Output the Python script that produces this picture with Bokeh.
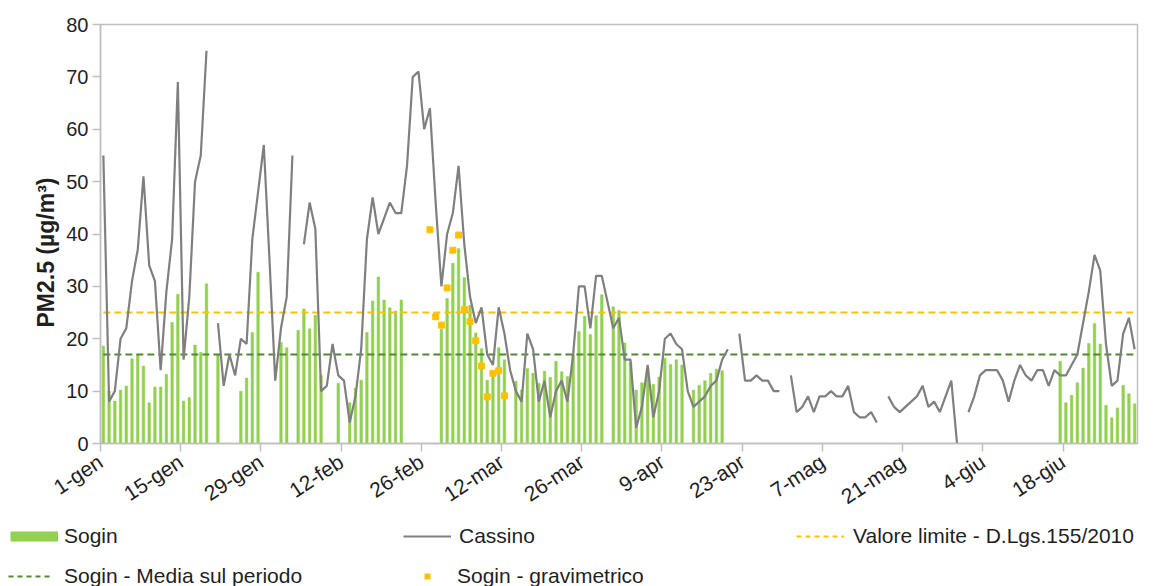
import numpy as np
from bokeh.plotting import figure
from bokeh.layouts import column
from bokeh.models import FixedTicker, Range1d, Legend, LegendItem, Title
from bokeh.embed import file_html
from bokeh.resources import INLINE

n = None

# ---- data (day index 0 = 1-gen ... 180 = 30-giu) ----
sogin = [
    18.6, 10.0, 8.1, 10.2, 11.0, 16.2, 17.0, 14.8, 7.8, 10.8,
    10.8, 13.2, 23.1, 28.5, 8.1, 8.8, 18.8, 17.4, 30.5, n,
    17.0, n, n, n, 10.0, 12.5, 21.2, 32.7, n, n,
    n, 19.3, 18.3, n, 21.6, 25.7, 21.9, 24.5, 13.0, n,
    n, 11.5, n, 7.8, 10.6, 12.1, 21.2, 27.2, 31.8, 27.4,
    25.9, 25.3, 27.4, n, n, n, n, n, n, 21.8,
    27.7, 34.4, 37.2, 31.7, 26.4, 21.1, 18.1, 12.1, 13.8, 18.3,
    16.0, n, 11.9, 10.2, 14.3, 13.4, 11.5, 13.8, 12.6, 15.7,
    13.7, 12.8, 16.9, 21.4, 24.3, 20.8, 24.4, 28.4, n, 26.1,
    25.4, 19.2, 15.5, 10.2, 11.6, 14.4, 11.3, 12.7, 16.3, 15.1,
    16.0, 15.0, n, 10.2, 11.1, 12.0, 13.4, 14.2, 13.9, n,
    n, n, n, n, n, n, n, n, n, n,
    n, n, n, n, n, n, n, n, n, n,
    n, n, n, n, n, n, n, n, n, n,
    n, n, n, n, n, n, n, n, n, n,
    n, n, n, n, n, n, n, n, n, n,
    n, n, n, n, n, n, n, 15.7, 7.8, 9.2,
    11.6, 14.4, 19.1, 22.9, 19.0, 7.3, 4.9, 6.8, 11.1, 9.5,
    7.6,
]

cassino = [
    55, 8, 10, 20, 22, 31, 37, 51, 34, 31,
    14, 29, 39, 69, 16, 28, 50, 55, 75, n,
    23, 11, 17, 13, 20, 19, 39, 48, 57, 35,
    12, 22, 28, 55, n, 38, 46, 41, 10, 11,
    19, 13, 12, 4, 9, 18, 39, 47, 40, 43,
    46, 44, 44, 53, 70, 71, 60, 64, 46, 30,
    40, 44, 53, 38, 28, 23, 26, 17, 15, 26,
    21, 14, 10, 8, 21, 18, 8, 12, 5, 10,
    12, 8, 17, 30, 30, 22, 32, 32, 27, 22,
    24, 16, 16, 3, 7, 15, 5, 10, 20, 21,
    19, 18, 10, 7, 8, 9, 11, 12, 16, 18,
    n, 21, 12, 12, 13, 12, 12, 10, 10, n,
    13, 6, 7, 9, 6, 9, 9, 10, 9, 9,
    11, 6, 5, 5, 6, 4, n, 9, 7, 6,
    7, 8, 9, 11, 7, 8, 6, 9, 12, 0,
    n, 6, 9, 13, 14, 14, 14, 12, 8, 12,
    15, 13, 12, 14, 14, 11, 14, 13, 13, 15,
    17, 23, 29, 36, 33, 19, 11, 12, 21, 24,
    18,
]

grav_days = [57, 58, 59, 60, 61, 62, 63, 64, 65, 66, 67, 68, 69, 70]
grav_values = [40.8, 24.2, 22.6, 29.7, 36.9, 39.8, 25.6, 23.3, 19.6, 14.8, 8.9, 13.4, 13.9, 9.1]

limit_value = 25.0      # Valore limite - D.Lgs.155/2010
sogin_mean = 17.0       # Sogin - Media sul periodo

tick_days = [0, 14, 28, 42, 56, 70, 84, 98, 112, 126, 140, 154, 168]
tick_labels = ["1-gen", "15-gen", "29-gen", "12-feb", "26-feb", "12-mar", "26-mar",
               "9-apr", "23-apr", "7-mag", "21-mag", "4-giu", "18-giu"]
y_ticks = [0, 10, 20, 30, 40, 50, 60, 70, 80]

# ---- styling ----
FONT = "Liberation Sans"
TXT = "#1f1f1f"
AXIS_GRAY = "#BFBFBF"
GREEN = "#92D050"
DARK_GREEN = "#4E8A2E"
YELLOW = "#FFC000"
GRAY_LINE = "#7F7F7F"

days = np.arange(len(cassino))
xc = days + 0.5                       # centre of each day cell
sogin_arr = np.array(sogin, dtype=float)
cassino_arr = np.array(cassino, dtype=float)
grav_x = np.array(grav_days) + 0.5

MAIN_H = 521

# ================= main chart =================
p = figure(width=1166, height=MAIN_H, output_backend="svg", toolbar_location=None,
           x_range=Range1d(0, len(cassino)), y_range=Range1d(y_ticks[0], y_ticks[-1]),
           min_border_left=100, min_border_right=29, min_border_top=24, min_border_bottom=78)
p.background_fill_color = "white"
p.border_fill_color = "white"
p.outline_line_color = AXIS_GRAY
p.outline_line_width = 1.5
p.xgrid.visible = False
p.ygrid.visible = False

p.vbar(x=xc, top=sogin_arr, width=0.45, fill_color=GREEN, line_color=GREEN, line_width=0.5)
p.line(x=[xc[0], xc[-1]], y=[limit_value, limit_value], line_color=YELLOW,
       line_width=2, line_dash="7 4")
p.line(x=[xc[0], xc[-1]], y=[sogin_mean, sogin_mean], line_color=DARK_GREEN,
       line_width=2, line_dash="7 4")
p.line(x=xc, y=cassino_arr, line_color=GRAY_LINE, line_width=2.2)
p.scatter(x=grav_x, y=grav_values, marker="square", size=6,
          fill_color=YELLOW, line_color=YELLOW)

for ax in (p.xaxis, p.yaxis):
    ax.axis_line_color = AXIS_GRAY
    ax.axis_line_width = 1.5
    ax.major_tick_line_color = AXIS_GRAY
    ax.major_tick_line_width = 1.5
    ax.minor_tick_line_color = None
    ax.major_tick_in = 0
    ax.major_tick_out = 8
    ax.major_label_text_font = FONT
    ax.major_label_text_color = TXT

p.yaxis.major_label_text_font_size = "20px"
p.yaxis.ticker = FixedTicker(ticks=y_ticks)
p.yaxis.major_label_standoff = 4
p.xaxis.major_label_text_font_size = "21px"
p.xaxis.ticker = FixedTicker(ticks=tick_days)
p.xaxis.major_label_overrides = {d: lab for d, lab in zip(tick_days, tick_labels)}
p.xaxis.major_label_orientation = 0.58
p.xaxis.major_label_standoff = 8

p.add_layout(Title(text="PM2.5 (µg/m³)", align="left", offset=116,
                   text_font=FONT, text_font_size="23px", text_font_style="bold",
                   text_color=TXT), "left")

# ================= legend strip =================
lg = figure(width=1166, height=586 - MAIN_H, output_backend="svg", toolbar_location=None,
            x_range=Range1d(0, 1), y_range=Range1d(0, 1),
            x_axis_type=None, y_axis_type=None,
            min_border_left=0, min_border_right=0, min_border_top=0, min_border_bottom=0)
lg.outline_line_color = None
lg.xgrid.visible = False
lg.ygrid.visible = False
lg.background_fill_color = "white"
lg.border_fill_color = "white"

for f in (p, lg):
    if "frame_align" in f.properties():
        f.frame_align = False

# proxy renderers (kept outside the visible range; they only supply legend swatches)
off = [-5, -4]
sogin_proxy = lg.line(x=off, y=off, line_color=GREEN, line_width=10)
cas_proxy = lg.line(x=off, y=off, line_color=GRAY_LINE, line_width=2)
lim_proxy = lg.line(x=off, y=off, line_color=YELLOW, line_width=2, line_dash="5 4")
mean_proxy = lg.line(x=off, y=off, line_color=DARK_GREEN, line_width=2, line_dash="5 4")
grav_proxy = lg.line(x=off, y=off, line_color=YELLOW, line_width=6, line_dash="0 21 6 21")


def add_legend(label, renderer, vx, vy, gw, standoff):
    leg = Legend(items=[LegendItem(label=label, renderers=[renderer])],
                 location=(vx, vy), glyph_width=gw, glyph_height=22, label_height=22,
                 label_standoff=standoff, padding=0, margin=0, spacing=0,
                 border_line_alpha=0, background_fill_alpha=0,
                 label_text_font=FONT, label_text_font_size="21px", label_text_color=TXT)
    lg.add_layout(leg)


add_legend("Sogin", sogin_proxy, 10, 38, 48, 6)
add_legend("Cassino", cas_proxy, 403, 38, 48, 8)
add_legend("Valore limite - D.Lgs.155/2010", lim_proxy, 796, 38, 48, 9)
add_legend("Sogin - Media sul periodo", mean_proxy, 8, -2, 45, 11)
add_legend("Sogin - gravimetrico", grav_proxy, 403, -2, 48, 6)

layout = column(p, lg, spacing=0)
open("out.html", "w").write(file_html(layout, INLINE))
